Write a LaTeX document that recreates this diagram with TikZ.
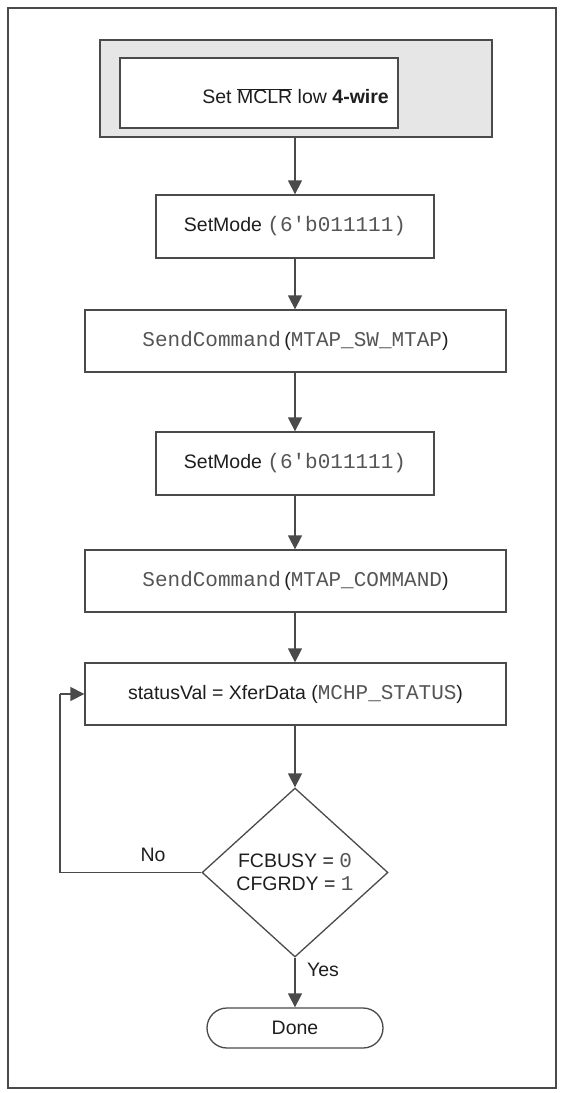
\documentclass[tikz,border=0pt]{standalone}
\usepackage{fontspec}
\setmainfont{Liberation Sans}
\setmonofont{Liberation Mono}
\usetikzlibrary{shapes.geometric,arrows.meta}
\definecolor{linec}{HTML}{4A4A4A}
\definecolor{greyfill}{HTML}{E6E6E6}
\definecolor{txt}{HTML}{1E1E1E}
\definecolor{mono}{HTML}{555555}
\newcommand{\cd}[1]{{\fontsize{21}{24}\ttfamily\color{mono}#1}}
\tikzset{
  flowbox/.style={draw=linec, line width=1.3pt, fill=white, inner sep=0pt, text=txt, font=\fontsize{19.5}{23}\selectfont},
  flowarrow/.style={draw=linec, line width=1.3pt, -{Triangle[width=14pt,length=14pt]}},
  flowline/.style={draw=linec, line width=1.3pt},
  lbl/.style={text=txt, font=\fontsize{19.5}{23}\selectfont, inner sep=0pt}
}
\begin{document}
\begin{tikzpicture}[x=1pt,y=-1pt]
\useasboundingbox (0,0) rectangle (560,1093);
% outer frame
\draw[linec, line width=1.5pt] (8,8) rectangle (556,1088);
% grey box with inner box
\node[draw=linec, line width=1.3pt, fill=greyfill, minimum width=392pt, minimum height=97pt, inner sep=0pt] (grey) at (296,88.5) {};
\node[flowbox, minimum width=278pt, minimum height=70pt] (mclr) at (259,93) {};
\node[lbl, anchor=east] (mclrtxt) at (389,96) {Set \(\overline{\hbox{MCLR}}\) low \textbf{4-wire}};
% boxes
\node[flowbox, minimum width=278pt, minimum height=63pt] (sm1) at (295,226.5) {SetMode \cd{(6'b011111)}};
\node[flowbox, minimum width=421pt, minimum height=62pt] (sc1) at (295.5,341) {\cd{SendCommand}\,(\cd{MTAP\_SW\_MTAP})};
\node[flowbox, minimum width=278pt, minimum height=63pt] (sm2) at (295,463.5) {SetMode \cd{(6'b011111)}};
\node[flowbox, minimum width=421pt, minimum height=62pt] (sc2) at (295.5,581) {\cd{SendCommand}\,(\cd{MTAP\_COMMAND})};
\node[flowbox, minimum width=421pt, minimum height=62pt] (sv) at (295.5,694) {statusVal = XferData (\cd{MCHP\_STATUS})};
\node[draw=linec, line width=1.3pt, fill=white, diamond, minimum width=186pt, minimum height=169pt, inner sep=0pt, text=txt, font=\fontsize{19.5}{23}\selectfont, align=center] (dec) at (295,872.5) {FCBUSY = \cd{0}\\CFGRDY = \cd{1}};
\node[flowbox, rounded corners=20pt, minimum width=176pt, minimum height=40pt] (done) at (295,1028) {Done};
\coordinate (c1) at (60,872.5);
\coordinate (c2) at (60,694);
% connectors
\draw[flowarrow] (grey.south -| sm1.north) -- (sm1.north);
\draw[flowarrow] (sm1.south) -- (sc1.north -| sm1.south);
\draw[flowarrow] (sc1.south -| sm2.north) -- (sm2.north);
\draw[flowarrow] (sm2.south) -- (sc2.north -| sm2.south);
\draw[flowarrow] (sc2.south -| sm2.south) -- (sv.north -| sm2.south);
\draw[flowarrow] (sv.south -| dec.north) -- (dec.north);
\draw[flowarrow] (dec.south) -- (done.north);
\draw[flowline] (dec.west) -- (c1) -- (c2);
\draw[flowarrow] (c2) -- (sv.west);
\node[lbl] (no) at (153,855) {No};
\node[lbl] (yes) at (323,970) {Yes};
\end{tikzpicture}
\end{document}
